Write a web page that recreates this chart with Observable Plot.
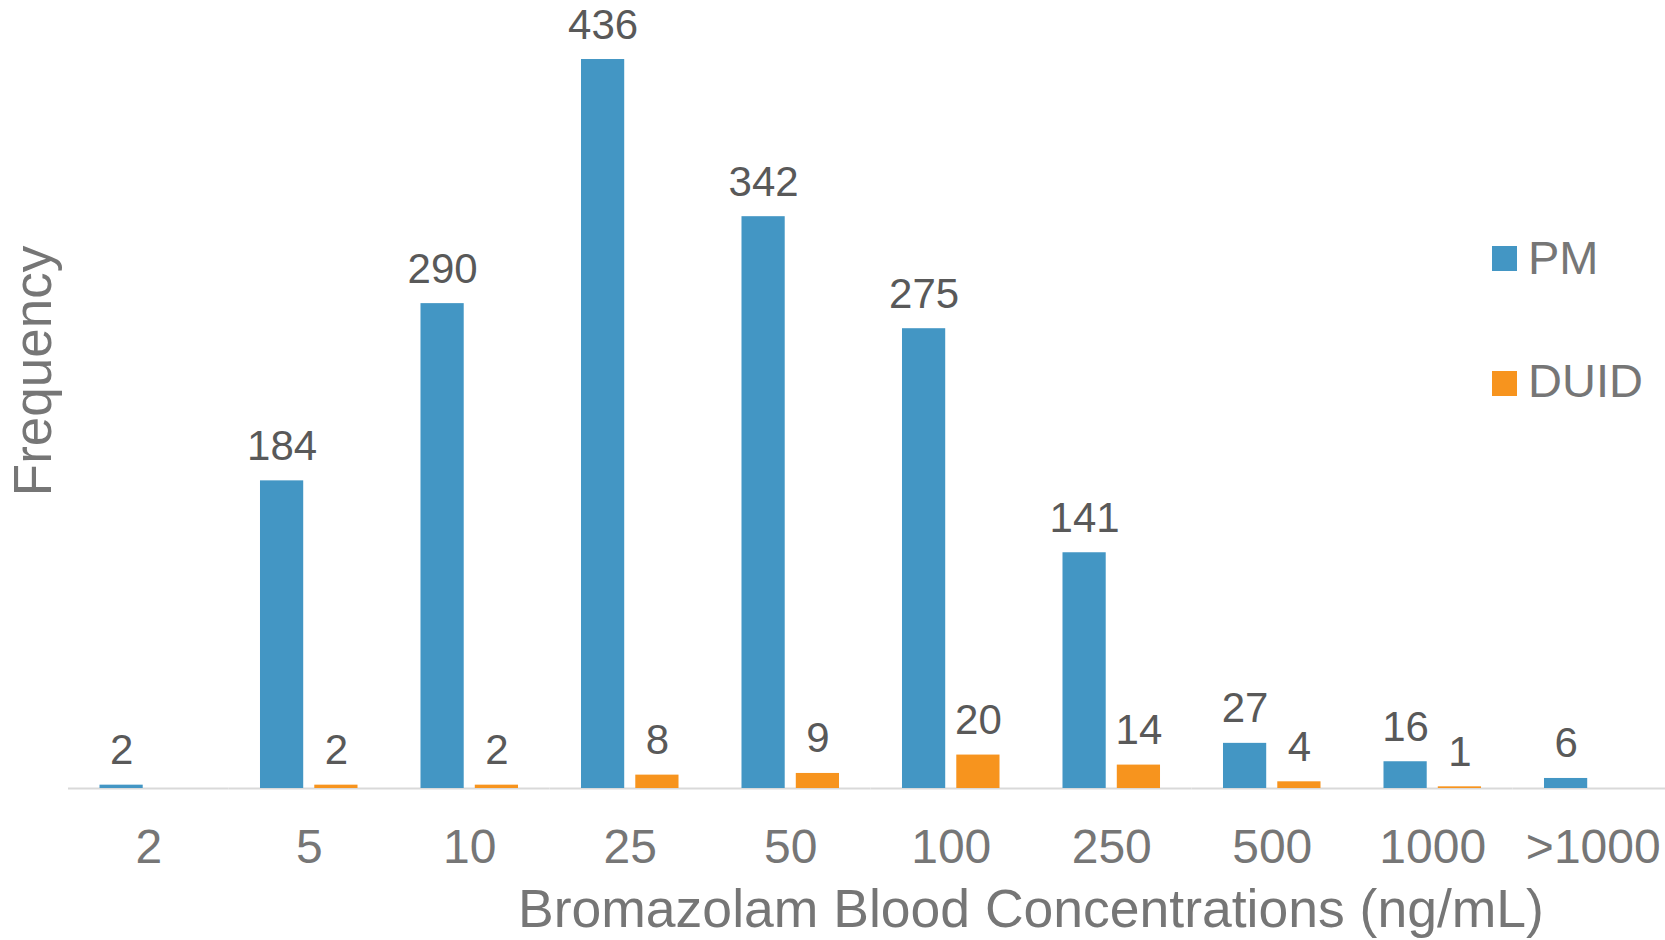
<!DOCTYPE html>
<html>
<head>
<meta charset="utf-8">
<script src="https://cdn.jsdelivr.net/npm/d3@7"></script>
<script src="https://cdn.jsdelivr.net/npm/@observablehq/plot@0.6"></script>
<style>
  html, body { margin: 0; padding: 0; background: #fff; }
  #wrap { position: relative; width: 1665px; height: 940px; overflow: hidden; font-family: "Liberation Sans", Arial, sans-serif; }
  .sw { position: absolute; width: 25px; height: 25px; }
  .lt { position: absolute; font-size: 47px; line-height: 47px; color: #767676; white-space: nowrap; }
</style>
</head>
<body>
<div id="wrap"></div>
<script>
// ---- data ----
const categories = ["2", "5", "10", "25", "50", "100", "250", "500", "1000", ">1000"];
const seriesNames = ["PM", "DUID"];
const pmValues   = [2, 184, 290, 436, 342, 275, 141, 27, 16, 6];
const duidValues = [null, 2, 2, 8, 9, 20, 14, 4, 1, null];
const seriesColors = ["#4396c4", "#f7941e"];
const xTitle = "Bromazolam Blood Concentrations (ng/mL)";
const yTitle = "Frequency";

// table for Plot
const rows = [];
categories.forEach((c, i) => {
  if (pmValues[i] != null) rows.push({cat: c, series: "PM", value: pmValues[i]});
  if (duidValues[i] != null) rows.push({cat: c, series: "DUID", value: duidValues[i]});
});

const chart = Plot.plot({
  width: 1665,
  height: 940,
  marginLeft: 68,
  marginRight: 0,
  marginTop: 0,
  marginBottom: 152,
  style: {fontFamily: "'Liberation Sans', Arial, sans-serif", background: "#fff", overflow: "visible"},
  fx: {domain: categories, padding: 0, label: null, range: [68, 1673], round: false},
  x: {domain: seriesNames, paddingInner: 0.204, paddingOuter: 0.58, axis: null, round: false},
  y: {domain: [0, 471.3], axis: null},
  color: {domain: seriesNames, range: seriesColors},
  marks: [
    Plot.ruleY([0], {stroke: "#d9d9d9", strokeWidth: 2}),
    Plot.barY(rows, {fx: "cat", x: "series", y: "value", fill: "series"}),
    Plot.text(rows, {fx: "cat", x: "series", y: "value", text: d => String(d.value),
      lineAnchor: "bottom", dy: -21, fontSize: 42, fill: "#595959"}),
    Plot.axisFx({anchor: "bottom", tickSize: 0, tickPadding: 40, fontSize: 48, color: "#767676", label: null})
  ]
});

const wrap = document.getElementById("wrap");
chart.style.position = "absolute";
chart.style.left = "0px";
chart.style.top = "0px";
wrap.appendChild(chart);

// axis titles
const svg = d3.select(chart);
svg.append("text")
  .attr("x", 1031).attr("y", 927)
  .attr("text-anchor", "middle")
  .attr("font-size", 53.5)
  .attr("fill", "#767676")
  .attr("font-family", "'Liberation Sans', Arial, sans-serif")
  .text(xTitle);
svg.append("text")
  .attr("transform", "translate(51,371) rotate(-90)")
  .attr("text-anchor", "middle")
  .attr("font-size", 53)
  .attr("fill", "#767676")
  .attr("font-family", "'Liberation Sans', Arial, sans-serif")
  .text(yTitle);

// legend
const legendTops = [246, 371];
const legendTextTops = [234, 357];
seriesNames.forEach((s, i) => {
  const sw = document.createElement("div");
  sw.className = "sw";
  sw.style.left = "1492px";
  sw.style.top = legendTops[i] + "px";
  sw.style.background = seriesColors[i];
  wrap.appendChild(sw);
  const t = document.createElement("div");
  t.className = "lt";
  t.style.left = "1528px";
  t.style.top = legendTextTops[i] + "px";
  t.textContent = s;
  wrap.appendChild(t);
});
</script>
</body>
</html>
